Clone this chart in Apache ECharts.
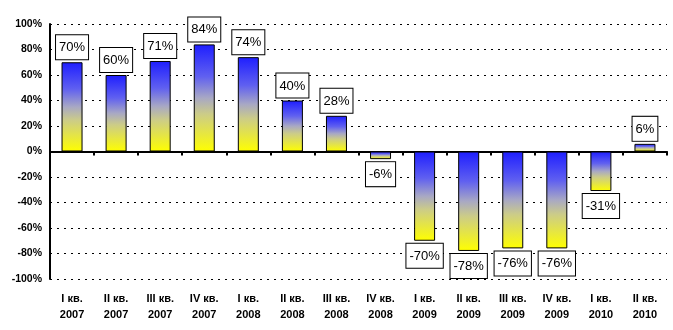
<!DOCTYPE html>
<html><head><meta charset="utf-8">
<script src="https://cdn.jsdelivr.net/npm/echarts@6/dist/echarts.min.js"></script>
<style>html,body{margin:0;padding:0;background:#fff}#c{width:673px;height:330px}</style>
</head><body><div id="c"></div>
<script>
var quarters = ['I кв.', 'II кв.', 'III кв.', 'IV кв.', 'I кв.', 'II кв.', 'III кв.', 'IV кв.', 'I кв.', 'II кв.', 'III кв.', 'IV кв.', 'I кв.', 'II кв.'];
var years = ['2007', '2007', '2007', '2007', '2008', '2008', '2008', '2008', '2009', '2009', '2009', '2009', '2010', '2010'];
var values = [70, 60, 71, 84, 74, 40, 28, -6, -70, -78, -76, -76, -31, 6];
var yTicks = { min: -100, max: 100, step: 20 };

var categories = quarters.map(function (q, i) { return q + '\n' + years[i]; });
var grad = new echarts.graphic.LinearGradient(0, 0, 0, 1, [
  { offset: 0, color: '#1e1eff' },
  { offset: 0.3, color: '#6060f0' },
  { offset: 0.5, color: '#a8a8c4' },
  { offset: 0.65, color: '#cccc88' },
  { offset: 1, color: '#ffff00' }
]);
var data = values.map(function (v) {
  return { value: v, label: { position: v >= 0 ? 'top' : 'bottom' } };
});

var chart = echarts.init(document.getElementById('c'));
chart.setOption({
  animation: false,
  grid: { left: 50, right: 6, top: 24, bottom: 51 },
  xAxis: [{
    type: 'category', data: categories,
    axisLine: { onZero: true, lineStyle: { color: '#000', width: 2 } },
    axisTick: { show: true, length: 4, lineStyle: { color: '#000', width: 2 } },
    axisLabel: { show: false }
  }, {
    type: 'category', data: categories, position: 'bottom',
    axisLine: { show: false, onZero: false }, axisTick: { show: false },
    axisLabel: {
      show: true, margin: 12, color: '#000', fontFamily: 'Liberation Sans',
      fontWeight: 'bold', fontSize: 11, lineHeight: 16, interval: 0
    }
  }],
  yAxis: {
    type: 'value', min: yTicks.min, max: yTicks.max, interval: yTicks.step,
    axisLine: { show: true, lineStyle: { color: '#000', width: 2 } },
    axisTick: { show: false },
    axisLabel: {
      margin: 8, color: '#000', fontFamily: 'Liberation Sans', fontWeight: 'bold', fontSize: 10.5,
      formatter: function (v) { return v + '%'; }
    },
    splitLine: { show: true, lineStyle: { color: '#000', type: [2, 5], width: 1 } }
  },
  series: [{
    type: 'bar', data: data, barWidth: 21, xAxisIndex: 0,
    itemStyle: { color: grad, borderColor: '#000', borderWidth: 1 },
    label: {
      show: true, distance: 3, formatter: function (p) { return p.value + '%'; },
      fontFamily: 'Liberation Sans', fontSize: 13, color: '#000',
      backgroundColor: '#fff', borderColor: '#000', borderWidth: 1,
      padding: [6, 3, 5, 3]
    }
  }]
});
</script></body></html>
